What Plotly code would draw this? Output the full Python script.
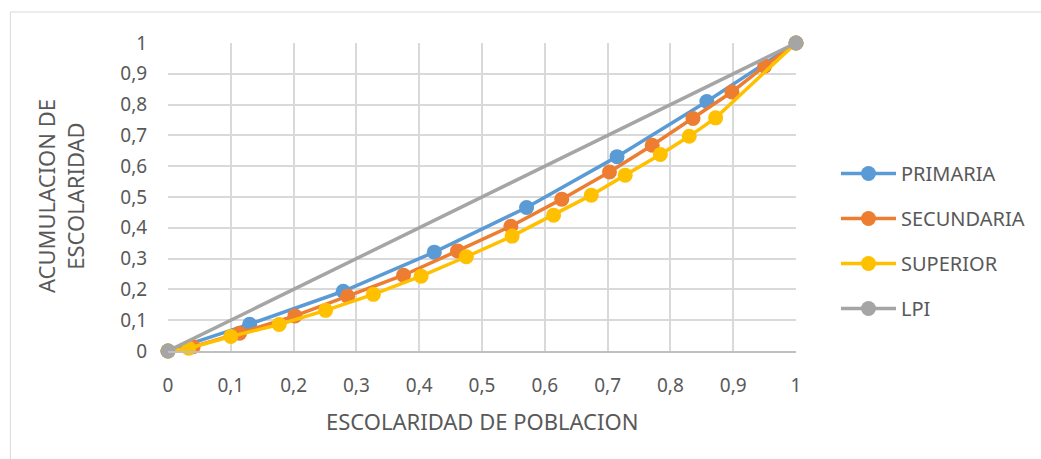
import plotly.graph_objects as go

# Data
primaria_x = [0, 0.13, 0.279, 0.424, 0.571, 0.715, 0.858, 1.0]
primaria_y = [0, 0.087, 0.194, 0.321, 0.466, 0.631, 0.81, 1.0]

secundaria_x = [0, 0.04, 0.114, 0.202, 0.286, 0.375, 0.461, 0.546, 0.627, 0.703, 0.771, 0.836, 0.898, 0.95, 1.0]
secundaria_y = [0, 0.014, 0.058, 0.114, 0.178, 0.246, 0.325, 0.405, 0.493, 0.581, 0.668, 0.755, 0.841, 0.925, 1.0]

superior_x = [0, 0.033, 0.1, 0.177, 0.251, 0.327, 0.403, 0.475, 0.548, 0.614, 0.674, 0.728, 0.784, 0.83, 0.872, 1.0]
superior_y = [0, 0.009, 0.047, 0.086, 0.132, 0.184, 0.243, 0.306, 0.373, 0.441, 0.506, 0.571, 0.638, 0.697, 0.757, 1.0]

lpi_x = [0, 1]
lpi_y = [0, 1]

series_names = ["PRIMARIA", "SECUNDARIA", "SUPERIOR", "LPI"]
colors = ["#5B9BD5", "#ED7D31", "#FFC000", "#A5A5A5"]
tick_vals = [i / 10 for i in range(11)]

FONT = "Noto Sans"
TXT = "#595959"

fig = go.Figure()
data = [(primaria_x, primaria_y), (secundaria_x, secundaria_y), (superior_x, superior_y), (lpi_x, lpi_y)]
for (xs, ys), name, col in zip(data, series_names, colors):
    fig.add_trace(go.Scatter(
        x=xs, y=ys, name=name, mode="lines+markers",
        line=dict(color=col, width=3.5),
        marker=dict(color=col, size=15),
        cliponaxis=False,
        legendgroup=name,
    ))

fig.update_layout(
    width=1041, height=459,
    margin=dict(l=168, r=244, t=43, b=108),
    paper_bgcolor="white", plot_bgcolor="white",
    separators=",.",
    font=dict(family=FONT, color=TXT, size=18),
    showlegend=True,
    legend=dict(
        x=1.062, y=0.357, xanchor="left", yanchor="middle",
        font=dict(size=20, color=TXT, family=FONT),
        tracegroupgap=16, itemwidth=55,
        bgcolor="rgba(0,0,0,0)",
    ),
    xaxis=dict(
        range=[0, 1], tickvals=tick_vals, showgrid=True, gridcolor="#D9D9D9", gridwidth=1.5,
        zeroline=False, showline=True, linecolor="#BFBFBF", linewidth=1.5,
        ticks="outside", ticklen=0, ticklabelstandoff=16,
        tickfont=dict(size=19, color=TXT, family=FONT), fixedrange=True,
    ),
    yaxis=dict(
        range=[0, 1], tickvals=tick_vals, showgrid=True, gridcolor="#D9D9D9", gridwidth=1.5,
        zeroline=False, showline=False,
        ticks="outside", ticklen=0, ticklabelstandoff=16,
        tickfont=dict(size=19, color=TXT, family=FONT), fixedrange=True,
    ),
    annotations=[
        dict(text="ESCOLARIDAD DE POBLACION", xref="paper", yref="paper", x=0.5, y=-0.227,
             xanchor="center", yanchor="middle", showarrow=False,
             font=dict(size=22, color=TXT, family=FONT)),
        dict(text="ACUMULACION DE<br>ESCOLARIDAD", xref="paper", yref="paper", x=-0.172, y=0.503,
             xanchor="center", yanchor="middle", showarrow=False, textangle=-90,
             font=dict(size=22, color=TXT, family=FONT)),
    ],
    shapes=[
        dict(type="rect", xref="paper", yref="paper", x0=-0.251, y0=-0.5, x1=1.5, y1=1.1006,
             line=dict(color="#D9D9D9", width=1), fillcolor="rgba(0,0,0,0)", layer="below"),
    ],
)

fig.write_html("out.html", config={"displayModeBar": False},
               post_script="document.body.style.margin='0';document.body.style.overflow='hidden';")
